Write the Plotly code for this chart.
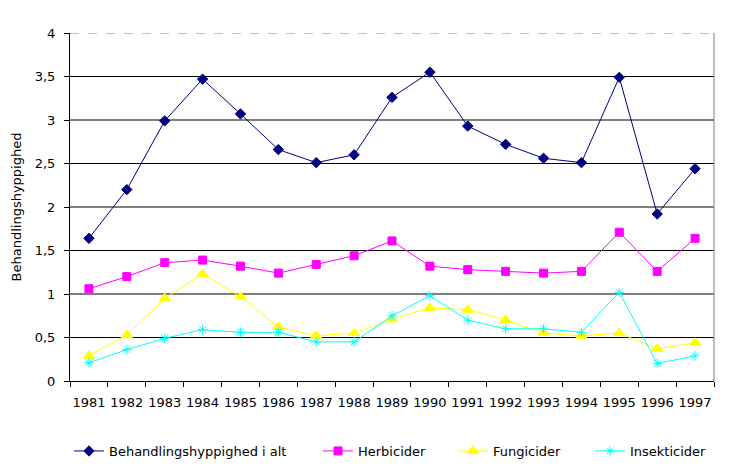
import plotly.graph_objects as go

years = [str(y) for y in range(1981, 1998)]
total = [1.64, 2.20, 2.99, 3.47, 3.07, 2.66, 2.51, 2.60, 3.26, 3.55, 2.93, 2.72, 2.56, 2.51, 3.49, 1.92, 2.44]
herbicider = [1.06, 1.20, 1.36, 1.39, 1.32, 1.24, 1.34, 1.44, 1.61, 1.32, 1.28, 1.26, 1.24, 1.26, 1.71, 1.26, 1.64]
fungicider = [0.29, 0.53, 0.95, 1.23, 0.97, 0.62, 0.52, 0.55, 0.71, 0.84, 0.82, 0.70, 0.55, 0.52, 0.55, 0.37, 0.44]
insekticider = [0.21, 0.36, 0.49, 0.59, 0.56, 0.56, 0.45, 0.45, 0.75, 0.98, 0.70, 0.60, 0.60, 0.56, 1.02, 0.20, 0.29]

y_ticks = [0, 0.5, 1, 1.5, 2, 2.5, 3, 3.5, 4]
y_ticktext = ["0", "0,5", "1", "1,5", "2", "2,5", "3", "3,5", "4"]

FONT = "DejaVu Sans, Verdana, sans-serif"
OFF = 8  # page body margin offset
W, H = 732, 473

series = [
    ("Behandlingshyppighed i alt", total, "#000080", "diamond", 8, "legend", 61),
    ("Herbicider", herbicider, "#FF00FF", "square", 8, "legend2", 310),
    ("Fungicider", fungicider, "#FFFF00", "triangle-up", 10, "legend3", 445),
    ("Insekticider", insekticider, "#00FFFF", "asterisk-open", 8, "legend4", 582),
]

fig = go.Figure()
legends = {}
for name, vals, color, sym, size, leg, lx in series:
    fig.add_trace(go.Scatter(
        x=years, y=vals, name=name, mode="lines+markers", legend=leg,
        line=dict(color=color, width=1),
        marker=dict(symbol=sym, size=size, color=color,
                    line=dict(color=color, width=1)),
    ))
    legends[leg] = dict(xref="container", yref="container", x=lx / W, y=1 - (451 - OFF) / H,
                        xanchor="left", yanchor="middle", orientation="h",
                        font=dict(family=FONT, size=13, color="black"),
                        bgcolor="rgba(0,0,0,0)", borderwidth=0)

shapes = []
for v in y_ticks[1:-1]:
    shapes.append(dict(type="line", xref="paper", yref="y", x0=0, x1=1, y0=v, y1=v,
                       line=dict(color="black", width=1.2), layer="below"))
shapes.append(dict(type="line", xref="paper", yref="y", x0=0, x1=1, y0=4, y1=4,
                   line=dict(color="#808080", width=1, dash="dash"), layer="below"))
shapes.append(dict(type="line", xref="paper", yref="paper", x0=1, x1=1, y0=0, y1=1,
                   line=dict(color="#808080", width=1), layer="below"))

left, plot_w = 70 - OFF, 644
top, plot_h = 33 - OFF, 348

fig.update_layout(
    width=W, height=H,
    margin=dict(l=left, r=W - left - plot_w, t=top, b=H - top - plot_h, autoexpand=False),
    paper_bgcolor="white", plot_bgcolor="white",
    font=dict(family=FONT, size=13, color="black"),
    shapes=shapes,
    showlegend=True,
    **legends,
    xaxis=dict(type="category", range=[-0.5, len(years) - 0.5], showgrid=False,
               showline=True, linecolor="black", linewidth=1,
               ticks="outside", tickson="boundaries", ticklen=5, tickcolor="black",
               tickangle=0, tickfont=dict(family=FONT, size=13), zeroline=False,
               automargin=False, ticklabelstandoff=9),
    yaxis=dict(range=[0, 4], tickvals=y_ticks, ticktext=y_ticktext, showgrid=False,
               showline=True, linecolor="black", linewidth=1, ticks="outside", ticklen=5,
               tickcolor="black", zeroline=False, automargin=False, ticklabelstandoff=6,
               tickfont=dict(family=FONT, size=13),
               title=dict(text="Behandlingshyppighed", font=dict(family=FONT, size=13), standoff=10)),
)

fig.write_html("out.html")
